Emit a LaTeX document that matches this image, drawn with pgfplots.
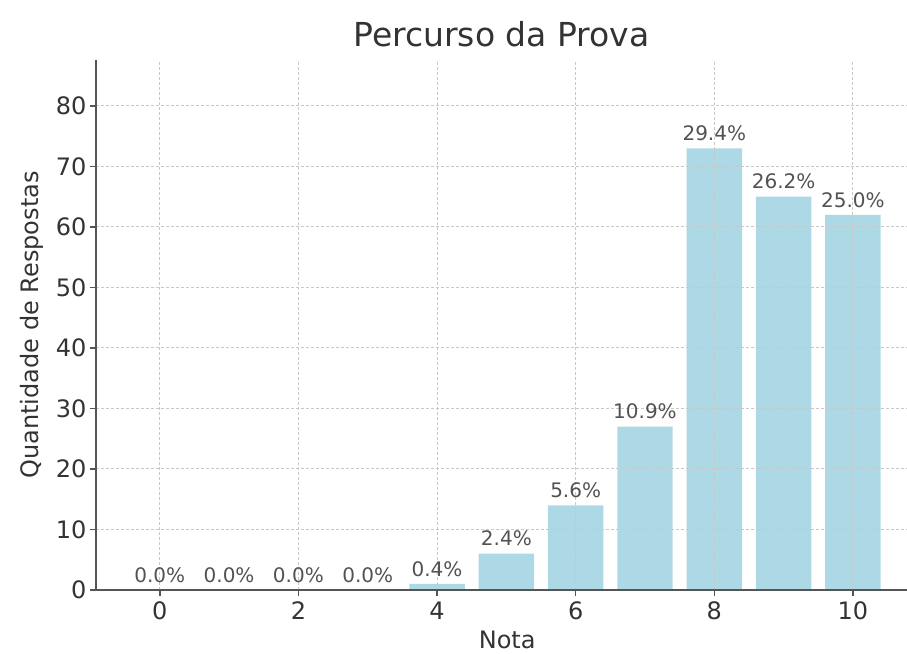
\documentclass[border=0pt]{standalone}
\usepackage{fontspec}
\setmainfont{DejaVu Sans}
\usepackage{pgfplots}
\pgfplotsset{compat=1.18}
\definecolor{barblue}{RGB}{173,216,230}
\definecolor{txt}{RGB}{51,51,51}
\definecolor{spine}{RGB}{85,85,85}
\definecolor{gridc}{RGB}{200,200,200}
\begin{document}
\begin{tikzpicture}
\useasboundingbox (-96pt,-63pt) rectangle (811pt,590pt);
\begin{axis}[
    at={(0pt,0pt)}, anchor=south west,
    scale only axis, width=811pt, height=530pt,
    xmin=-0.92, xmax=10.78, ymin=0, ymax=87.6,
    axis x line*=bottom, axis y line*=left,
    axis line style={spine, line width=2pt},
    xtick={0,2,...,10}, ytick={0,10,...,80},
    tick style={spine, line width=1.5pt},
    major tick length=6pt, tick align=outside,
    grid=major, grid style={gridc, dash pattern=on 3pt off 2pt, line width=1pt},
    axis on top,
    /pgf/number format/assume math mode=true,
    tick label style={font=\fontsize{24}{28}\selectfont, text=txt},
    xticklabel style={yshift=-2pt},
    label style={font=\fontsize{24}{28}\selectfont, text=txt},
    xlabel={Nota}, ylabel={Quantidade de Respostas},
    xlabel style={at={(axis description cs:0.507,-0.094)}, anchor=center},
    ylabel style={at={(axis description cs:-0.079,0.5)}, anchor=center},
    title={Percurso da Prova},
    title style={font=\fontsize{33}{38}\selectfont, text=txt, yshift=3pt},
    ybar, bar width=0.8,
    nodes near coords, point meta=explicit symbolic,
    nodes near coords style={font=\fontsize{20}{24}\selectfont, text=txt!85!white, yshift=4pt},
]
\addplot[fill=barblue, draw=none] coordinates {
    (0,0) [0.0\%]
    (1,0) [0.0\%]
    (2,0) [0.0\%]
    (3,0) [0.0\%]
    (4,1) [0.4\%]
    (5,6) [2.4\%]
    (6,14) [5.6\%]
    (7,27) [10.9\%]
    (8,73) [29.4\%]
    (9,65) [26.2\%]
    (10,62) [25.0\%]
};
\end{axis}
\end{tikzpicture}
\end{document}
